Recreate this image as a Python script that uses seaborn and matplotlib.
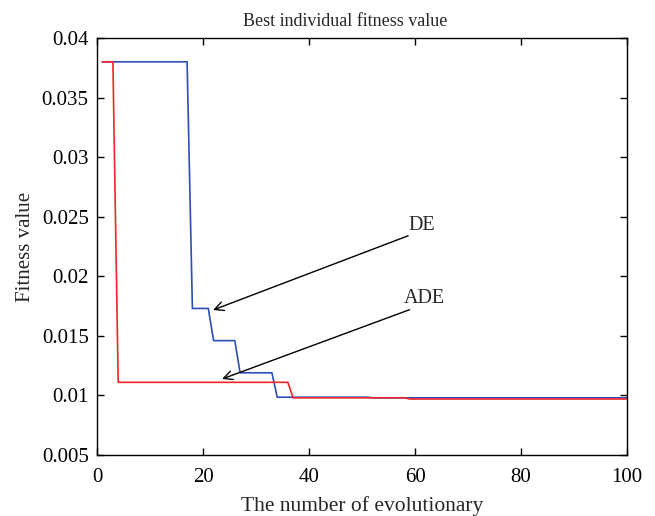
import matplotlib
matplotlib.use("Agg")
import matplotlib.pyplot as plt
import seaborn as sns
import pandas as pd

# DE (blue) breakpoints
de_gen = [1, 17, 18, 21, 22, 26, 27, 33, 34, 51, 52, 100]
de_fit = [0.038, 0.038, 0.0173, 0.0173, 0.0146, 0.0146, 0.0119, 0.0119,
          0.00985, 0.00985, 0.0098, 0.0098]
# ADE (red) breakpoints
ade_gen = [1, 3, 4, 36, 37, 58, 59, 100]
ade_fit = [0.038, 0.038, 0.0111, 0.0111, 0.0098, 0.0098, 0.0097, 0.0097]

xticks = [0, 20, 40, 60, 80, 100]
yticks = [0.005, 0.01, 0.015, 0.02, 0.025, 0.03, 0.035, 0.04]
ytick_labels = ["0.005", "0.01", "0.015", "0.02", "0.025", "0.03", "0.035", "0.04"]

sns.set_theme(style="ticks")
plt.rcParams['font.family'] = ['Liberation Serif', 'DejaVu Serif']

fig = plt.figure(figsize=(6.55, 5.16), dpi=100)
ax = fig.add_axes([97/655, 1-455/516, (627-97)/655, (455-38)/516])

de = pd.DataFrame({"gen": de_gen, "fit": de_fit})
ade = pd.DataFrame({"gen": ade_gen, "fit": ade_fit})
sns.lineplot(data=de, x="gen", y="fit", ax=ax, color="#2b4fb5", lw=1.2, sort=False)
sns.lineplot(data=ade, x="gen", y="fit", ax=ax, color="#f0262a", lw=1.2, sort=False)

ax.set_xlim(0, 100)
ax.set_ylim(0.005, 0.04)
ax.set_xticks(xticks)
ax.set_xticklabels([str(t) for t in xticks])
ax.set_yticks(yticks)
ax.set_yticklabels(ytick_labels)
ax.tick_params(direction="in", top=True, right=True, labelsize=15, length=5,
               width=1, colors="black", pad=6)
ax.tick_params(axis="x", pad=9)
for s in ax.spines.values():
    s.set_visible(True)
    s.set_linewidth(1.0)
    s.set_color("black")

ax.set_title("Best individual fitness value", fontsize=13, pad=9, x=0.468)
ax.set_xlabel("The number of evolutionary", fontsize=15.5, labelpad=7)
ax.set_ylabel("Fitness value", fontsize=15, labelpad=5)

# arrows
ax.annotate("", xy=(21.9, 0.01717), xytext=(58.7, 0.0234),
            arrowprops=dict(arrowstyle="->", color="black", lw=1.0,
                            shrinkA=0, shrinkB=0, mutation_scale=16))
ax.annotate("", xy=(23.6, 0.01138), xytext=(59.0, 0.0172),
            arrowprops=dict(arrowstyle="->", color="black", lw=1.0,
                            shrinkA=0, shrinkB=0, mutation_scale=16))
ax.text(58.7, 0.0235, "DE", fontsize=14.5, ha="left", va="bottom")
ax.text(57.8, 0.0173, "ADE", fontsize=14.5, ha="left", va="bottom")

fig.savefig("out.png", dpi=100)
